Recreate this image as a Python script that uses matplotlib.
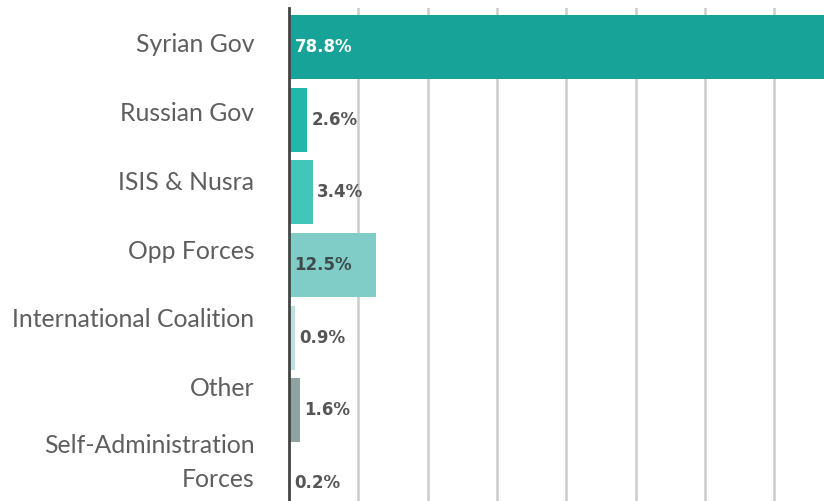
import matplotlib.pyplot as plt
import numpy as np

categories = ['Syrian Gov', 'Russian Gov', 'ISIS & Nusra', 'Opp Forces',
              'International Coalition', 'Other', 'Self-Administration\nForces']
shares = [78.8, 2.6, 3.4, 12.5, 0.9, 1.6, 0.2]
labels = ['78.8%', '2.6%', '3.4%', '12.5%', '0.9%', '1.6%', '0.2%']
colors = ['#17a398', '#22b7a8', '#42c6ba', '#7fcdc6', '#b9e1de', '#8fa4a1', '#3d4a49']
inside = [True, False, False, True, False, False, False]

W, H = 824, 501
fig = plt.figure(figsize=(W / 100, H / 100), dpi=100)
ax = fig.add_axes([289 / W, 0, 1 - 289 / W, (H - 8) / H])

pos = np.arange(len(categories))
ax.barh(pos, shares, height=0.88, color=colors, zorder=2)

ax.set_xlim(0, 77.2)
ax.set_ylim(6.245, -0.536)
ax.set_xticks(np.arange(10, 80, 10))
ax.xaxis.grid(True, color='#cccccc', linewidth=1.8, zorder=0)
ax.tick_params(axis='x', length=0, labelbottom=False)

# category labels sit a bit higher than the bars
ax.set_yticks(pos * 0.945 - 0.055)
ax.set_yticklabels(categories, fontsize=17.8, color='#5e5e5e',
                   fontfamily='Lato', fontweight='normal', linespacing=1.55)
ax.tick_params(axis='y', length=0, pad=25)

for s in ['top', 'right', 'bottom']:
    ax.spines[s].set_visible(False)
ax.spines['left'].set_color('#444444')
ax.spines['left'].set_linewidth(2)
ax.spines['left'].set_zorder(3)

for i, (v, lab) in enumerate(zip(shares, labels)):
    if inside[i]:
        col = 'white' if i == 0 else '#3f4a4a'
        ax.text(0.8, i, lab, va='center', ha='left', fontsize=12,
                fontweight='bold', color=col, zorder=4)
    else:
        ax.text(v + 0.6, i, lab, va='center', ha='left', fontsize=12,
                fontweight='bold', color='#555555', zorder=4)

fig.savefig('out.png', dpi=100)
